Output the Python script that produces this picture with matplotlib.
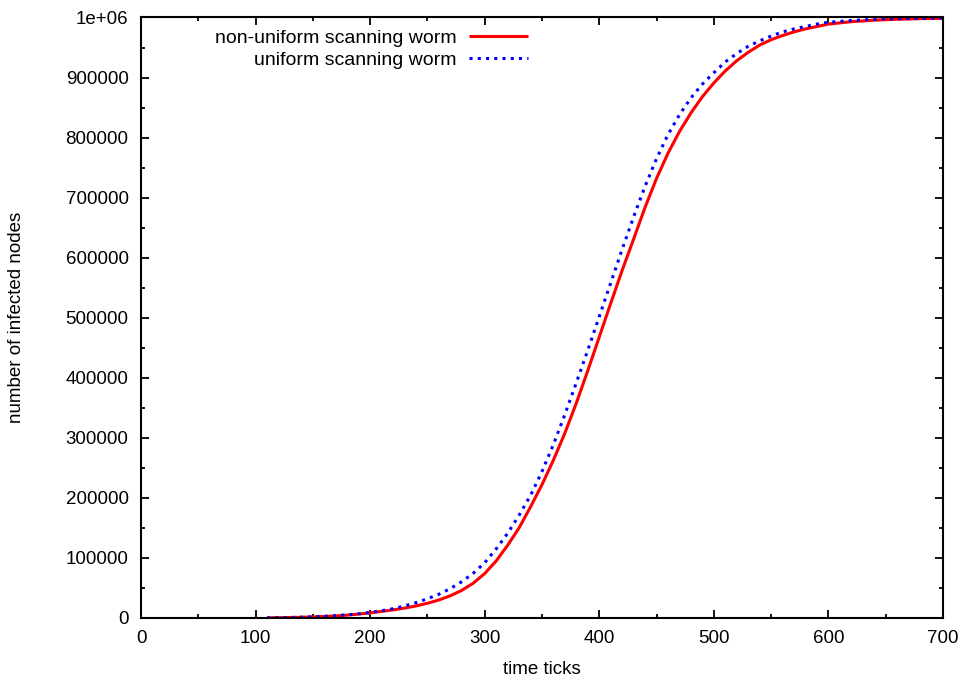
import matplotlib
matplotlib.use("Agg")
import matplotlib.pyplot as plt
from matplotlib.ticker import MultipleLocator

plt.rcParams['font.family'] = ['Liberation Sans', 'DejaVu Sans']

# time ticks (x) shared by both curves
ticks = [110, 120, 130, 140, 150, 160, 170, 180, 190, 200,
         210, 220, 230, 240, 250, 260, 270, 280, 290, 300,
         310, 320, 330, 340, 350, 360, 370, 380, 390, 400,
         410, 420, 430, 440, 450, 460, 470, 480, 490, 500,
         510, 520, 530, 540, 550, 560, 570, 580, 590, 600,
         620, 640, 660, 680, 700]

# non-uniform scanning worm (red)
nonuniform = [300, 500, 800, 1200, 1800, 2500, 3500, 4800, 6500, 8500,
              11000, 13500, 16500, 20000, 24500, 30000, 37000, 46000, 58000, 74000,
              95000, 121000, 150000, 185000, 222000, 263000, 308000, 358000, 412000, 468000,
              524000, 579000, 631000, 684000, 732000, 774000, 810000, 841000, 868000, 891000,
              911000, 928000, 942000, 954000, 963000, 970000, 976000, 981000, 985000, 989000,
              993000, 995500, 997000, 998000, 998500]

# uniform scanning worm (blue)
uniform = [300, 500, 800, 1300, 2000, 2800, 3900, 5300, 7000, 9200,
           12000, 15500, 20000, 25500, 32000, 39500, 49000, 60500, 74500, 92000,
           115000, 141000, 171000, 204000, 244000, 289000, 339000, 392000, 446000, 502000,
           558000, 614000, 668000, 719000, 765000, 805000, 838000, 866000, 889000, 908000,
           926000, 940000, 952000, 961000, 969000, 976000, 981000, 985000, 989000, 992000,
           995000, 997000, 998000, 998500, 999000]

xticks = [0, 100, 200, 300, 400, 500, 600, 700]
yticks = [0, 100000, 200000, 300000, 400000, 500000, 600000, 700000, 800000, 900000, 1000000]
ytick_labels = ['0', '100000', '200000', '300000', '400000', '500000',
                '600000', '700000', '800000', '900000', '1e+06']

fig = plt.figure(figsize=(9.58, 6.8), dpi=100)
ax = fig.add_axes([0.1472, 0.0912, 0.8371, 0.8831])

ax.plot(ticks, nonuniform, color='#ff0000', lw=2.2, solid_capstyle='butt',
        label='non-uniform scanning worm')
ax.plot(ticks, uniform, color='#0000ff', lw=2.2, linestyle=(0, (1, 1.7)),
        label='uniform scanning worm')

ax.set_xlim(0, 700)
ax.set_ylim(0, 1000000)
ax.set_xticks(xticks)
ax.set_yticks(yticks)
ax.set_yticklabels(ytick_labels)
ax.xaxis.set_minor_locator(MultipleLocator(50))
ax.yaxis.set_minor_locator(MultipleLocator(50000))

ax.tick_params(which='both', direction='in', top=True, right=True, width=1.3,
               labelsize=13.5, colors='black')
ax.tick_params(which='major', length=6, pad=9)
ax.tick_params(which='minor', length=3)
for s in ax.spines.values():
    s.set_linewidth(1.5)

ax.set_xlabel('time ticks', fontsize=13.5)
ax.set_ylabel('number of infected nodes', fontsize=13.5)
ax.xaxis.set_label_coords(0.5, -0.072)
ax.yaxis.set_label_coords(-0.145, 0.5)

ax.legend(loc='upper right', bbox_to_anchor=(0.4825, 0.98), frameon=False,
          markerfirst=False, fontsize=14, handlelength=3.05, handletextpad=0.62,
          labelspacing=0.22, borderpad=0, borderaxespad=0)

fig.savefig('out.png', dpi=100)
